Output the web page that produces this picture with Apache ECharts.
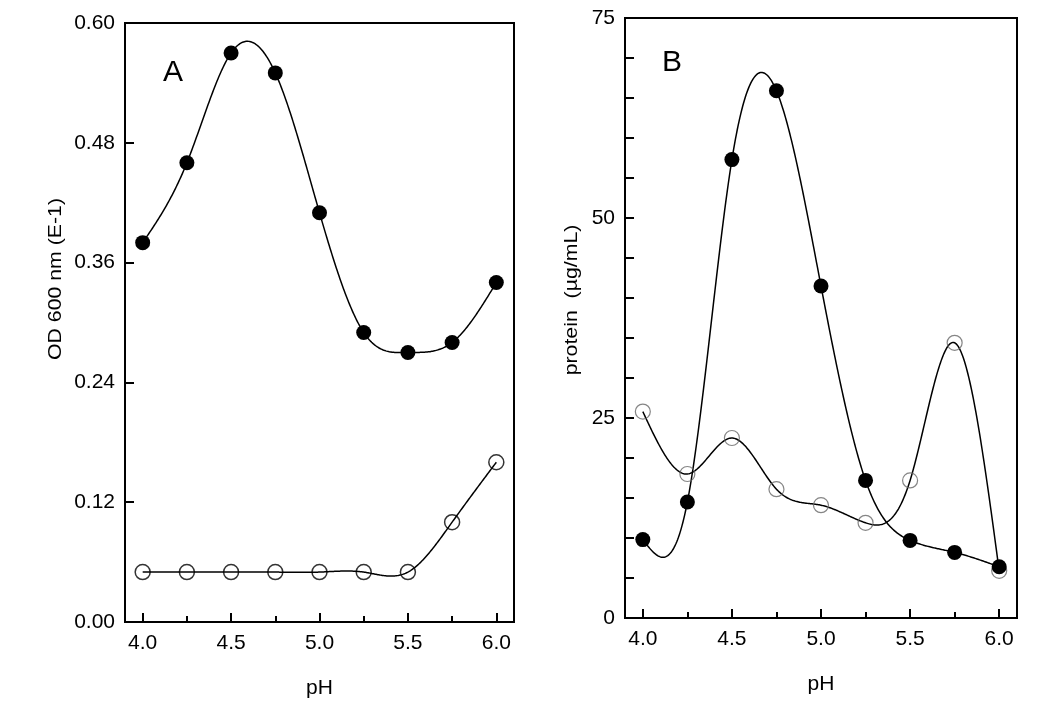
<!DOCTYPE html>
<html>
<head>
<meta charset="utf-8">
<script src="https://cdn.jsdelivr.net/npm/echarts@6/dist/echarts.min.js"></script>
<style>
html,body{margin:0;padding:0;background:#fff;}
#c{width:1050px;height:710px;}
</style>
</head>
<body>
<div id="c"></div>
<script>
// ---- data ----
const pH = [4.0, 4.25, 4.5, 4.75, 5.0, 5.25, 5.5, 5.75, 6.0];
const odFilled = [0.380, 0.460, 0.570, 0.550, 0.410, 0.290, 0.270, 0.280, 0.340];
const odOpen   = [0.050, 0.050, 0.050, 0.050, 0.050, 0.050, 0.050, 0.100, 0.160];
const protFilled = [9.8, 14.5, 57.3, 65.9, 41.5, 17.2, 9.7, 8.2, 6.4];
const protOpen   = [25.8, 18.0, 22.5, 16.1, 14.1, 11.9, 17.2, 34.4, 5.9];
const xLabelTicks = [4.0, 4.5, 5.0, 5.5, 6.0];
const xMinorTicks = [4.25, 4.75, 5.25, 5.75];
const yTicksA = [0, 0.12, 0.24, 0.36, 0.48, 0.60];
const yTicksB = [0, 25, 50, 75];
const yMinorB = [5, 10, 15, 20, 30, 35, 40, 45, 55, 60, 65, 70];
const yNameA = 'OD 600 nm (E-1)';
const yNameB = 'protein  (\u00b5g/mL)';
const xName = 'pH';

const FONT = '"Liberation Sans", Arial, Helvetica, sans-serif';
const pairs = (xs, ys) => xs.map((x, i) => [x, ys[i]]);

// natural cubic spline through the data points (rendering of the fitted curve)
function naturalSpline(xs, ys) {
  const n = xs.length, h = [], M = new Array(n).fill(0);
  for (let i = 0; i < n - 1; i++) h.push(xs[i + 1] - xs[i]);
  const a = [], b = [], c = [], d = [];
  for (let i = 1; i < n - 1; i++) {
    a.push(h[i - 1]); b.push(2 * (h[i - 1] + h[i])); c.push(h[i]);
    d.push(6 * ((ys[i + 1] - ys[i]) / h[i] - (ys[i] - ys[i - 1]) / h[i - 1]));
  }
  const m = b.length;
  for (let i = 1; i < m; i++) {
    const w = a[i] / b[i - 1];
    b[i] -= w * c[i - 1]; d[i] -= w * d[i - 1];
  }
  const sol = new Array(m);
  sol[m - 1] = d[m - 1] / b[m - 1];
  for (let i = m - 2; i >= 0; i--) sol[i] = (d[i] - c[i] * sol[i + 1]) / b[i];
  for (let i = 0; i < m; i++) M[i + 1] = sol[i];
  return function (x) {
    let i = 0;
    while (i < n - 2 && x > xs[i + 1]) i++;
    const hh = h[i], A = (xs[i + 1] - x) / hh, B = (x - xs[i]) / hh;
    return A * ys[i] + B * ys[i + 1] + ((A * A * A - A) * M[i] + (B * B * B - B) * M[i + 1]) * hh * hh / 6;
  };
}

function curveSeries(xIdx, yIdx, xs, ys) {
  const f = naturalSpline(xs, ys);
  return {
    type: 'custom', xAxisIndex: xIdx, yAxisIndex: yIdx, data: pairs(xs, ys), z: 2, silent: true,
    renderItem: function (params, api) {
      if (params.dataIndex !== 0) return null;
      const pts = [];
      const steps = 400, x0 = xs[0], x1 = xs[xs.length - 1];
      for (let k = 0; k <= steps; k++) {
        const x = x0 + (x1 - x0) * k / steps;
        pts.push(api.coord([x, f(x)]));
      }
      return {type: 'polyline', shape: {points: pts}, style: {stroke: '#000', lineWidth: 1.5, fill: null}};
    }
  };
}

function xAxes(gridIndex) {
  return [
    {
      type: 'value', gridIndex, min: 3.9, max: 6.1, position: 'bottom',
      name: xName, nameLocation: 'middle', nameGap: 56,
      nameTextStyle: {fontFamily: FONT, fontSize: 21, color: '#000'},
      axisLine: {show: true, lineStyle: {color: '#000', width: 2}},
      axisTick: {show: true, inside: true, length: 9, customValues: xLabelTicks, lineStyle: {color: '#000', width: 2}},
      axisLabel: {show: true, customValues: xLabelTicks, formatter: v => v.toFixed(1), fontFamily: FONT, fontSize: 21, color: '#000', margin: 11},
      splitLine: {show: false}
    },
    {
      type: 'value', gridIndex, min: 3.9, max: 6.1, position: 'bottom',
      axisLine: {show: false},
      axisTick: {show: true, inside: true, length: 6, customValues: xMinorTicks, lineStyle: {color: '#000', width: 2}},
      axisLabel: {show: false},
      splitLine: {show: false}
    }
  ];
}

const chart = echarts.init(document.getElementById('c'), null, {renderer: 'canvas'});
const openStyle = (border, bw) => ({color: 'rgba(255,255,255,0)', borderColor: border, borderWidth: bw});

chart.setOption({
  backgroundColor: '#fff',
  animation: false,
  grid: [
    {left: 125, top: 23, width: 389, height: 599, show: true, borderColor: '#000', borderWidth: 2, backgroundColor: 'transparent'},
    {left: 625, top: 18, width: 392, height: 600, show: true, borderColor: '#000', borderWidth: 2, backgroundColor: 'transparent'}
  ],
  xAxis: [...xAxes(0), ...xAxes(1)],
  yAxis: [
    {
      type: 'value', gridIndex: 0, min: 0, max: 0.6,
      axisLine: {show: true, lineStyle: {color: '#000', width: 2}},
      axisTick: {show: true, inside: true, length: 9, customValues: yTicksA, lineStyle: {color: '#000', width: 2}},
      axisLabel: {customValues: yTicksA, formatter: v => v.toFixed(2), fontFamily: FONT, fontSize: 21, color: '#000', margin: 10, padding: [6, 0, 0, 0]},
      splitLine: {show: false}
    },
    {
      type: 'value', gridIndex: 1, min: 0, max: 75,
      axisLine: {show: true, lineStyle: {color: '#000', width: 2}},
      axisTick: {show: true, inside: true, length: 9, customValues: yTicksB.concat(yMinorB), lineStyle: {color: '#000', width: 2}},
      axisLabel: {customValues: yTicksB, fontFamily: FONT, fontSize: 21, color: '#000', margin: 10, padding: [6, 0, 0, 0]},
      splitLine: {show: false}
    }
  ],
  graphic: [
    {type: 'text', x: 56, y: 279, rotation: Math.PI / 2, scaleX: 1.12,
     style: {text: yNameA, font: '19px ' + FONT, fill: '#000', align: 'center', verticalAlign: 'middle'}},
    {type: 'text', x: 572, y: 300, rotation: Math.PI / 2, scaleX: 1.12,
     style: {text: yNameB, font: '19px ' + FONT, fill: '#000', align: 'center', verticalAlign: 'middle'}},
    {type: 'text', x: 173, y: 73, style: {text: 'A', font: '30px ' + FONT, fill: '#000', align: 'center', verticalAlign: 'middle'}},
    {type: 'text', x: 672, y: 63, style: {text: 'B', font: '30px ' + FONT, fill: '#000', align: 'center', verticalAlign: 'middle'}}
  ],
  series: [
    curveSeries(0, 0, pH, odOpen),
    curveSeries(0, 0, pH, odFilled),
    curveSeries(2, 1, pH, protOpen),
    curveSeries(2, 1, pH, protFilled),
    {type: 'scatter', xAxisIndex: 0, yAxisIndex: 0, data: pairs(pH, odOpen),
     symbol: 'circle', symbolSize: 15, itemStyle: openStyle('#000', 1.5), z: 3},
    {type: 'scatter', xAxisIndex: 0, yAxisIndex: 0, data: pairs(pH, odFilled),
     symbol: 'circle', symbolSize: 15, itemStyle: {color: '#000', opacity: 1}, z: 4},
    {type: 'scatter', xAxisIndex: 2, yAxisIndex: 1, data: pairs(pH, protOpen),
     symbol: 'circle', symbolSize: 15, itemStyle: openStyle('#666', 1.2), z: 3},
    {type: 'scatter', xAxisIndex: 2, yAxisIndex: 1, data: pairs(pH, protFilled),
     symbol: 'circle', symbolSize: 15, itemStyle: {color: '#000', opacity: 1}, z: 4}
  ]
});
</script>
</body>
</html>
